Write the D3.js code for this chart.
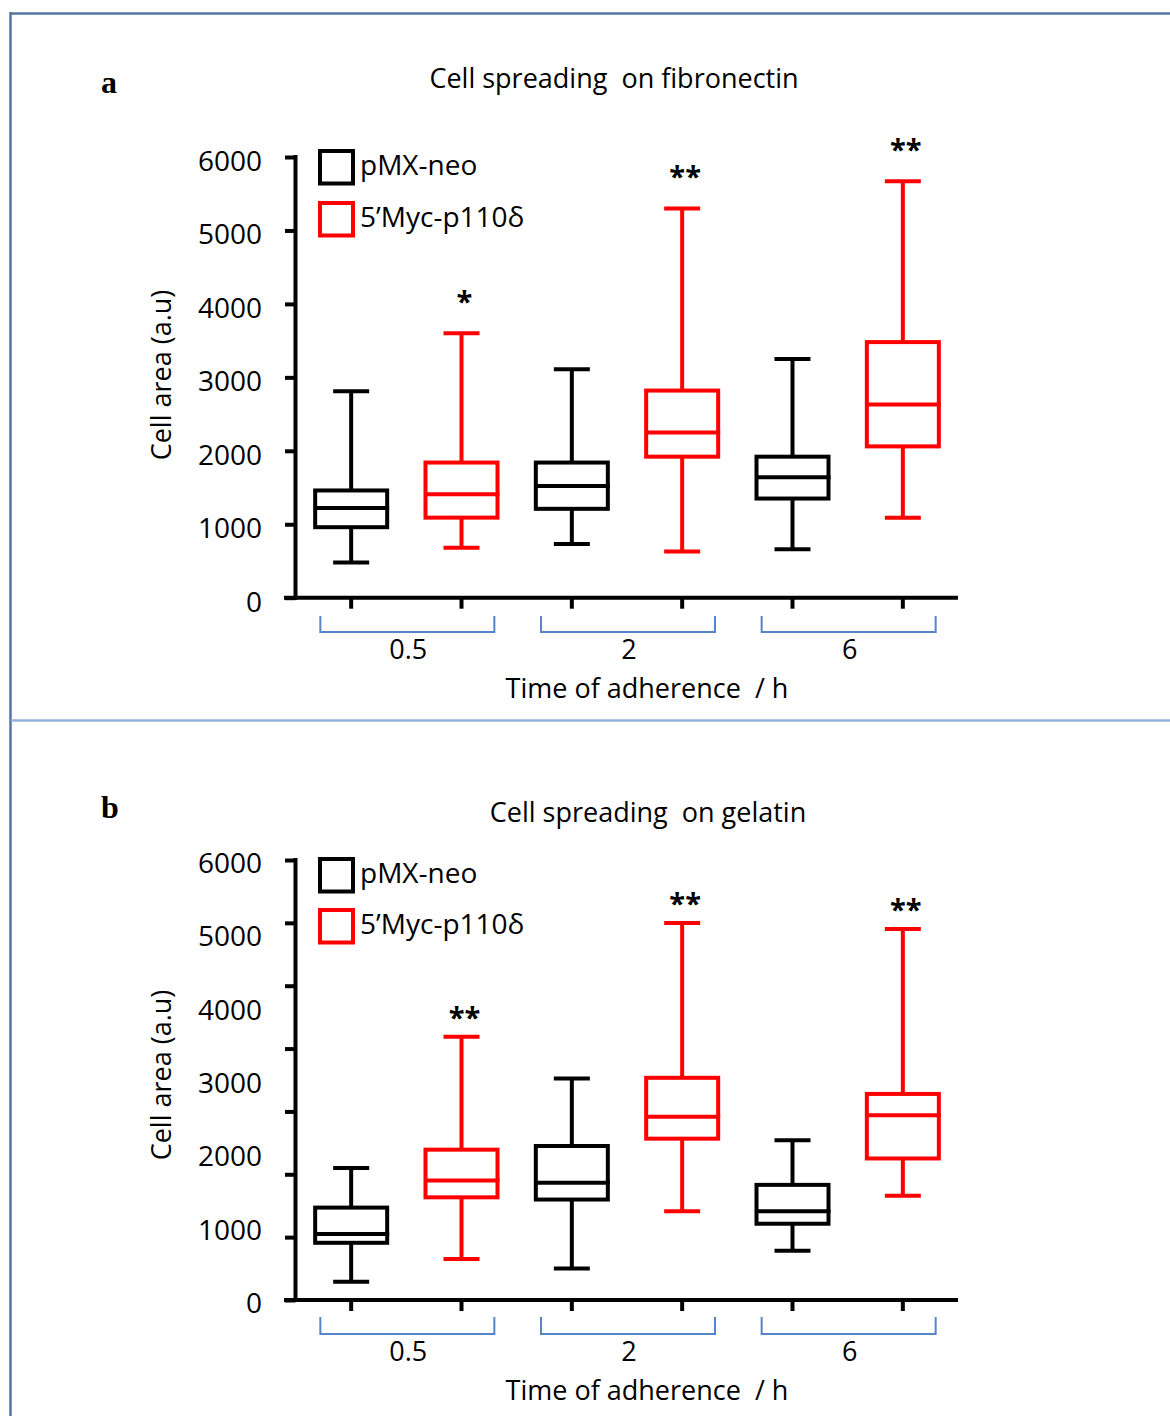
<!DOCTYPE html>
<html>
<head>
<meta charset="utf-8">
<script src="https://cdn.jsdelivr.net/npm/d3@7"></script>
<style>
  html, body { margin: 0; padding: 0; background: #fff; }
  svg { display: block; }
  text { font-family: "Open Sans", "Noto Sans", sans-serif; fill: #000; white-space: pre; }
</style>
</head>
<body>
<svg id="fig" width="1170" height="1416"></svg>
<script>
// ---- data ----
const groups = ["0.5", "2", "6"];
const seriesNames = ["pMX-neo", "5\u2019Myc-p110\u03b4"];
const seriesColors = ["#000000", "#ff0000"];
const yTickValues = [0, 1000, 2000, 3000, 4000, 5000, 6000];

// Box statistics per condition: [lower whisker, Q1, median, Q3, upper whisker]
// order: 0.5 h pMX, 0.5 h Myc, 2 h pMX, 2 h Myc, 6 h pMX, 6 h Myc
const fibronectinBoxes = [
  [480, 960, 1220, 1460, 2810],
  [680, 1090, 1410, 1840, 3600],
  [730, 1210, 1520, 1840, 3110],
  [630, 1920, 2250, 2820, 5300],
  [660, 1350, 1640, 1920, 3250],
  [1090, 2060, 2630, 3480, 5670]
];
const fibronectinSig = ["", "*", "", "**", "", "**"];

const gelatinBoxes = [
  [250, 780, 900, 1260, 1800],
  [560, 1400, 1630, 2050, 3590],
  [430, 1370, 1600, 2100, 3020],
  [1210, 2200, 2500, 3030, 5140],
  [670, 1040, 1210, 1570, 2180],
  [1420, 1930, 2520, 2810, 5060]
];
const gelatinSig = ["", "**", "", "**", "", "**"];

// ---- layout ----
const panels = [
  {
    letter: "a", letterY: 93,
    title: "Cell spreading  on fibronectin", titleX: 614, titleY: 88,
    boxes: fibronectinBoxes, sig: fibronectinSig,
    yRange: [597.7, 157], tickMarks: 6, labelDy: 14,
    legendY: 149, legendGap: 52, starGap: 21,
    bracketTop: 616, bracketBottom: 632, xLabelY: 659, xTitleY: 698, yTitleY: 375
  },
  {
    letter: "b", letterY: 818,
    title: "Cell spreading  on gelatin", titleX: 648, titleY: 822,
    boxes: gelatinBoxes, sig: gelatinSig,
    yRange: [1300, 860], tickMarks: 7, labelDy: 13,
    legendY: 857, legendGap: 51, starGap: 9,
    bracketTop: 1317, bracketBottom: 1334, xLabelY: 1361, xTitleY: 1400, yTitleY: 1075
  }
];

const svg = d3.select("#fig");

// frame lines
svg.append("line").attr("x1", 10).attr("x2", 1170).attr("y1", 13.5).attr("y2", 13.5)
  .attr("stroke", "#56759f").attr("stroke-width", 2.5);
svg.append("line").attr("x1", 10.5).attr("x2", 10.5).attr("y1", 12).attr("y2", 1416)
  .attr("stroke", "#56759f").attr("stroke-width", 2.5);
svg.append("line").attr("x1", 11).attr("x2", 1170).attr("y1", 720.5).attr("y2", 720.5)
  .attr("stroke", "#93b3dc").attr("stroke-width", 2.5);

const keys = groups.flatMap(g => seriesNames.map((s, i) => g + "|" + i));
const x = d3.scaleBand().domain(keys).range([296, 958]).padding(0);
const bw = x.bandwidth();
const boxW = 72, capW = 36, sw = 4;

panels.forEach(p => {
  const g = svg.append("g");
  const y = d3.scaleLinear().domain([0, 6000]).range(p.yRange);
  const axisX = 295.5;

  // panel letter
  g.append("text").attr("x", 101).attr("y", p.letterY)
    .style("font-family", "'Liberation Serif', 'DejaVu Serif', serif")
    .style("font-weight", "bold").style("font-size", "32px").text(p.letter);

  // title
  g.append("text").attr("x", p.titleX).attr("y", p.titleY)
    .attr("text-anchor", "middle").style("font-size", "27px").text(p.title);

  // y axis tick marks
  const markStep = 6000 / p.tickMarks;
  const marks = d3.range(p.tickMarks + 1).map(i => i * markStep);
  const yAxis = g.append("g").attr("transform", `translate(${axisX},0)`)
    .call(d3.axisLeft(y).tickValues(marks).tickSize(10.5).tickFormat(""));
  yAxis.select(".domain").remove();
  yAxis.selectAll(".tick line").attr("stroke", "#000").attr("stroke-width", sw);

  // y tick labels
  g.selectAll(".ylab").data(yTickValues).join("text")
    .attr("x", 262).attr("y", d => y(d) + p.labelDy)
    .attr("text-anchor", "end").style("font-size", "28px").text(d => d);

  // x axis tick marks
  const xAxis = g.append("g").attr("transform", `translate(0,${y(0)})`)
    .call(d3.axisBottom(x).tickSize(11).tickFormat(""));
  xAxis.select(".domain").remove();
  xAxis.selectAll(".tick line").attr("stroke", "#000").attr("stroke-width", sw);

  // axis lines
  g.append("line").attr("x1", axisX).attr("x2", axisX)
    .attr("y1", y(6000) - 2).attr("y2", y(0) + 2)
    .attr("stroke", "#000").attr("stroke-width", sw);
  g.append("line").attr("x1", 284).attr("x2", 958)
    .attr("y1", y(0)).attr("y2", y(0))
    .attr("stroke", "#000").attr("stroke-width", sw);

  // y title
  g.append("text")
    .attr("transform", `translate(171,${p.yTitleY}) rotate(-90)`)
    .attr("text-anchor", "middle").style("font-size", "27px")
    .text("Cell area (a.u)");

  // boxes
  const bx = g.selectAll(".box").data(p.boxes).join("g")
    .attr("transform", (d, i) => `translate(${x(keys[i]) + bw / 2},0)`)
    .attr("stroke", (d, i) => seriesColors[i % 2])
    .attr("stroke-width", sw).attr("fill", "none");
  bx.append("line").attr("x1", 0).attr("x2", 0)
    .attr("y1", d => y(d[3])).attr("y2", d => y(d[4]));
  bx.append("line").attr("x1", 0).attr("x2", 0)
    .attr("y1", d => y(d[1])).attr("y2", d => y(d[0]));
  bx.append("line").attr("x1", -capW / 2).attr("x2", capW / 2)
    .attr("y1", d => y(d[4])).attr("y2", d => y(d[4]));
  bx.append("line").attr("x1", -capW / 2).attr("x2", capW / 2)
    .attr("y1", d => y(d[0])).attr("y2", d => y(d[0]));
  bx.append("rect").attr("x", -boxW / 2).attr("width", boxW)
    .attr("y", d => y(d[3])).attr("height", d => y(d[1]) - y(d[3]))
    .attr("fill", "#fff");
  bx.append("line").attr("x1", -boxW / 2).attr("x2", boxW / 2 + 2)
    .attr("y1", d => y(d[2])).attr("y2", d => y(d[2]));

  // significance marks
  g.selectAll(".sig").data(p.boxes).join("text")
    .attr("x", (d, i) => x(keys[i]) + bw / 2 + 3)
    .attr("y", d => y(d[4]) - p.starGap)
    .attr("text-anchor", "middle")
    .style("font-size", "29px").style("font-weight", "bold")
    .text((d, i) => p.sig[i]);

  // legend
  seriesNames.forEach((name, i) => {
    const top = p.legendY + i * p.legendGap;
    g.append("rect").attr("x", 320).attr("y", top + 2).attr("width", 33).attr("height", 32.5)
      .attr("fill", "none").attr("stroke", seriesColors[i]).attr("stroke-width", sw);
    g.append("text").attr("x", 360).attr("y", top + 26)
      .style("font-size", "28px").text(name);
  });

  // group brackets and labels
  groups.forEach((grp, gi) => {
    const c = x(grp + "|0") + bw;
    g.append("path")
      .attr("d", `M${c - 86},${p.bracketTop}V${p.bracketBottom}H${c + 88}V${p.bracketTop}`)
      .attr("fill", "none").attr("stroke", "#5585c8").attr("stroke-width", 2);
    g.append("text").attr("x", c + 2).attr("y", p.xLabelY)
      .attr("text-anchor", "middle").style("font-size", "27px").text(grp);
  });

  // x title
  g.append("text").attr("x", 647).attr("y", p.xTitleY)
    .attr("text-anchor", "middle").style("font-size", "27px")
    .text("Time of adherence  / h");
});
</script>
</body>
</html>
